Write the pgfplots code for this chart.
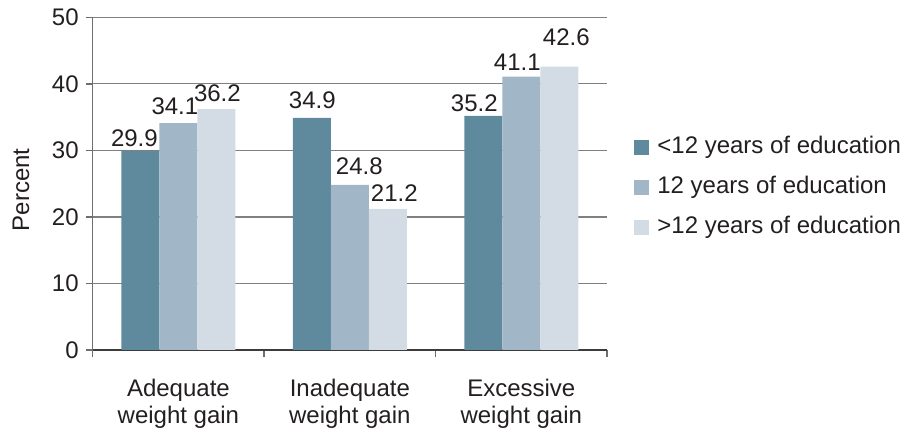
\documentclass[border=0pt]{standalone}
\usepackage{fontspec}
\setmainfont{Liberation Sans}
\usepackage{pgfplots}
\usepackage{pgfplotstable}
\pgfplotsset{compat=1.18}

\definecolor{lowedu}{RGB}{95,138,158}
\definecolor{midedu}{RGB}{161,182,198}
\definecolor{highedu}{RGB}{211,220,228}
\definecolor{gridgray}{RGB}{128,128,128}
\definecolor{axisgray}{RGB}{110,110,110}
\definecolor{axisdark}{RGB}{60,60,60}
\definecolor{textcol}{RGB}{35,31,32}

% x = category, y = percent, dx/dy = label offsets in pt
\pgfplotstableread{
x y dx dy
0 29.9 -3 2
1 34.9 0.25 4.5
2 35.2 -4.5 2
}\lowtab
\pgfplotstableread{
x y dx dy
0 34.1 -1.75 3.85
1 24.8 4.75 5
2 41.1 -2 3
}\midtab
\pgfplotstableread{
x y dx dy
0 36.2 0.5 3.5
1 21.2 3.25 3.5
2 42.6 3.5 10
}\hightab

\begin{document}
\begin{tikzpicture}[font=\fontsize{12}{14}\selectfont, text=textcol]
\path[use as bounding box] (0,0) rectangle (451pt,216.5pt);
\begin{axis}[
  at={(46.35pt,41.5pt)}, anchor=south west,
  scale only axis, width=257.15pt, height=166.35pt,
  xmin=-0.5, xmax=2.5, ymin=0, ymax=50,
  ybar=0pt, bar width=19pt,
  axis x line*=bottom, axis y line*=left,
  axis line style={-},
  x axis line style={draw=axisdark, line width=0.8pt},
  y axis line style={draw=axisgray, line width=0.7pt},
  xtick={-0.5,0.5,1.5,2.5},
  xticklabels={{Adequate\\weight gain},{Inadequate\\weight gain},{Excessive\\weight gain},{}},
  xticklabel style={align=center, xshift=42.86pt, yshift=-7.5pt, font=\fontsize{12}{13.5}\selectfont},
  ytick={0,10,...,50},
  tick align=outside, major tick length=3.5pt,
  tick style={draw=axisgray, line width=0.7pt},
  ymajorgrids, grid style={draw=gridgray, line width=0.6pt},
  /pgf/number format/assume math mode=true,
  every axis y label/.style={at={(axis description cs:-0.1394,0.481)}, rotate=90, anchor=center},
  ylabel={Percent},
  visualization depends on={\thisrow{dx} \as \dx},
  visualization depends on={\thisrow{dy} \as \dy},
  nodes near coords={\pgfmathprintnumber[fixed,fixed zerofill,precision=1]{\pgfplotspointmeta}},
  every node near coord/.append style={anchor=south, inner sep=0pt, xshift=\dx pt, yshift=\dy pt, text=textcol},
  legend style={at={(1.0525,0.487)}, anchor=west, draw=none, fill=none,
    inner sep=0pt, outer sep=0pt, row sep=9pt, column sep=4pt,
    nodes={inner sep=0pt, text height=8.5pt, text depth=2.5pt, text=textcol}},
  legend cell align=left,
  legend image code/.code={\fill[#1] (0pt,-3.6pt) rectangle (7.7pt,4.1pt);},
]
\addplot[fill=lowedu, draw=none] table[x=x, y=y] {\lowtab};
\addplot[fill=midedu, draw=none] table[x=x, y=y] {\midtab};
\addplot[fill=highedu, draw=none] table[x=x, y=y] {\hightab};
\legend{<12 years of education, 12 years of education, >12 years of education}
\end{axis}
\end{tikzpicture}
\end{document}
